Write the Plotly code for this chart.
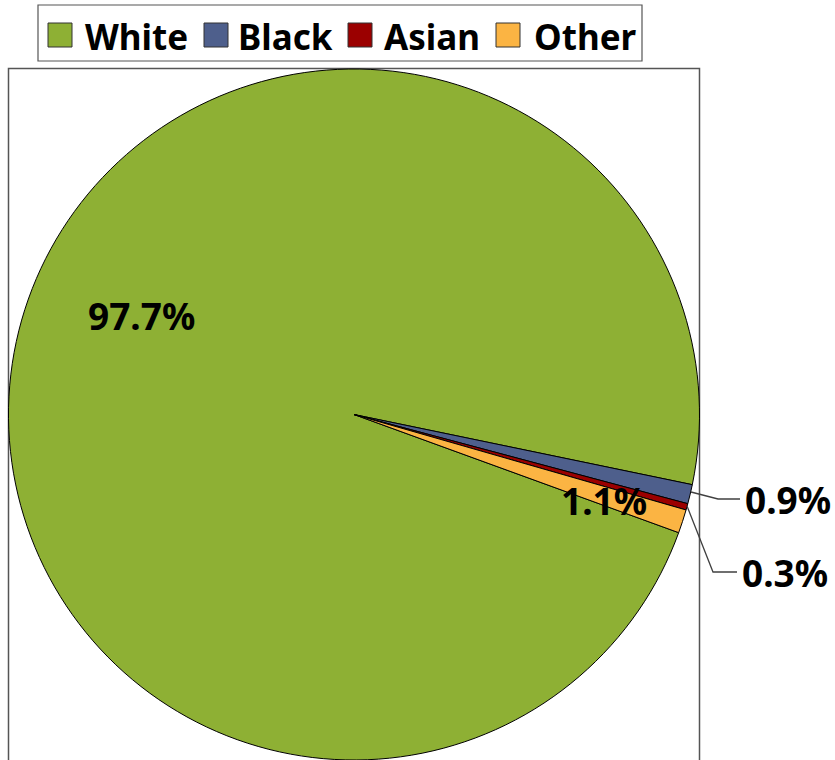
import plotly.graph_objects as go

# data
groups = ["White", "Black", "Asian", "Other"]
shares = [97.7, 0.9, 0.3, 1.1]
colors = ["#8EB034", "#4E5F8C", "#9B0000", "#FBB443"]

W, H = 835, 760
FONT = "Noto Sans"


def px(x, y):
    # pixel position -> paper coords
    return x / W, 1 - y / H


fig = go.Figure()

fig.add_trace(go.Pie(
    labels=groups,
    values=shares,
    sort=False,
    direction="clockwise",
    rotation=110,
    marker=dict(colors=colors, line=dict(color="black", width=1)),
    textinfo="none",
    hoverinfo="label+percent",
    showlegend=False,
    domain=dict(x=[8 / W, 700 / W], y=[0, 1 - 69 / H]),
))

shapes = []
annotations = []

# plot area frame
shapes.append(dict(type="rect", xref="paper", yref="paper",
                   x0=8.5 / W, x1=699.5 / W, y0=-0.05, y1=1 - 68.5 / H,
                   line=dict(color="#555555", width=1.5), layer="below"))

# legend box
shapes.append(dict(type="rect", xref="paper", yref="paper",
                   x0=38 / W, x1=642 / W, y0=1 - 61 / H, y1=1 - 5 / H,
                   line=dict(color="#555555", width=1.2)))
sq_x = [48, 204, 348, 496]
txt_x = [83, 236, 382, 532]
for g, c, sx, tx in zip(groups, colors, sq_x, txt_x):
    x0, y0 = px(sx, 47)
    x1, y1 = px(sx + 24, 23)
    shapes.append(dict(type="rect", xref="paper", yref="paper",
                       x0=x0, x1=x1, y0=y0, y1=y1, fillcolor=c,
                       line=dict(color="#333333", width=1)))
    ax, ay = px(tx, 36)
    annotations.append(dict(x=ax, y=ay, xref="paper", yref="paper",
                            text=g, showarrow=False, xanchor="left", yanchor="middle",
                            font=dict(family=FONT, size=35, color="black", weight="bold")))

# data labels
lab = {g: f"{v:.1f}%" for g, v in zip(groups, shares)}
label_pos = {
    "White": (141, 316, "center"),
    "Other": (604, 500, "center"),
    "Black": (743, 499, "left"),
    "Asian": (740, 572, "left"),
}
for g, (x, y, anc) in label_pos.items():
    ax, ay = px(x, y)
    annotations.append(dict(x=ax, y=ay, xref="paper", yref="paper",
                            text=lab[g], showarrow=False, xanchor=anc, yanchor="middle",
                            font=dict(family=FONT, size=37, color="black", weight="bold")))

# leader lines for the outside labels
leaders = [
    [(691, 492), (718, 499), (740, 499)],
    [(687, 506), (713, 572), (737, 572)],
]
for pts in leaders:
    path = "M " + " L ".join(f"{px(x, y)[0]},{px(x, y)[1]}" for x, y in pts)
    shapes.append(dict(type="path", xref="paper", yref="paper", path=path,
                       line=dict(color="#404040", width=1.3)))

fig.update_layout(
    width=W, height=H,
    margin=dict(l=0, r=0, t=0, b=0),
    paper_bgcolor="white",
    plot_bgcolor="white",
    shapes=shapes,
    annotations=annotations,
)

# drop the page's default body margin so the figure sits at the window corner
fig.write_html("out.html", config={"displayModeBar": False},
               post_script="document.body.style.margin='0';")
